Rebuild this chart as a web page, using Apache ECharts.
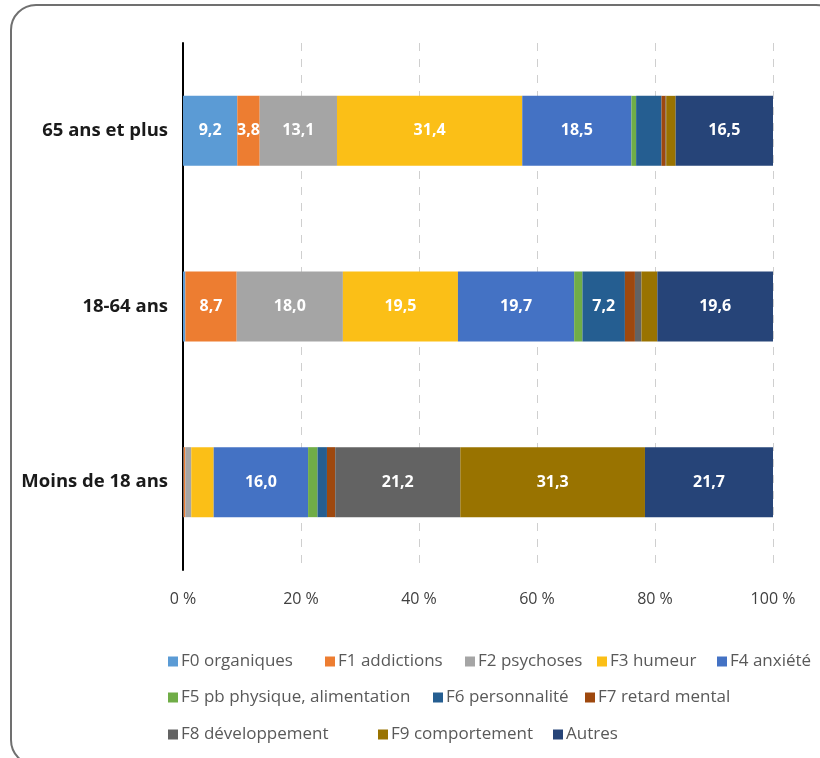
<!DOCTYPE html>
<html>
<head>
<meta charset="utf-8">
<script src="https://cdn.jsdelivr.net/npm/echarts@6/dist/echarts.min.js"></script>
<style>
body { margin: 0; background: #fff; }
.chart { width: 820px; height: 758px; }
</style>
</head>
<body>
<div class="chart" id="chart"></div>
<script>
// categories top -> bottom
const ages = ['65 ans et plus', '18-64 ans', 'Moins de 18 ans']
const groups = ['F0 organiques', 'F1 addictions', 'F2 psychoses', 'F3 humeur', 'F4 anxiété',
  'F5 pb physique, alimentation', 'F6 personnalité', 'F7 retard mental',
  'F8 développement', 'F9 comportement', 'Autres']
const colors = ['#5b9bd5', '#ed7d31', '#a5a5a5', '#fbbf17', '#4472c4',
  '#70ad47', '#255e91', '#9e480e', '#636363', '#997300', '#264478']
// shares in %, one array per age group, in the order of groups
const plus65 = [9.2, 3.8, 13.1, 31.4, 18.5, 0.8, 4.3, 0.7, 0.1, 1.6, 16.5]
const adults = [0.4, 8.7, 18.0, 19.5, 19.7, 1.4, 7.2, 1.7, 1.1, 2.7, 19.6]
const minors = [0.1, 0.3, 1.0, 3.8, 16.0, 1.6, 1.6, 1.4, 21.2, 31.3, 21.7]
// which groups carry a value label in each bar
const labelled = [[0, 1, 2, 3, 4, 10], [1, 2, 3, 4, 6, 10], [4, 8, 9, 10]]
const xTicks = [0, 20, 40, 60, 80, 100]

const rows = [plus65, adults, minors]
const font = '"Open Sans", sans-serif'
// legend entry positions (left, top), one per group
const legendPos = [[168, 653], [325, 653], [465, 653], [597, 653], [717, 653],
  [168, 689], [433, 689], [585, 689],
  [168, 726], [378, 726], [553, 726]]

const series = groups.map(function (name, i) {
  return {
    name: name,
    type: 'bar',
    stack: 'total',
    barWidth: 70,
    itemStyle: { color: colors[i] },
    label: {
      color: '#fff',
      fontFamily: font,
      fontSize: 16,
      fontWeight: 'bold',
      position: 'inside',
      formatter: function (p) { return p.value.toFixed(1).replace('.', ',') }
    },
    data: rows.map(function (r, k) {
      return { value: r[i], label: { show: labelled[k].indexOf(i) >= 0 } }
    })
  }
})

const legends = groups.map(function (name, i) {
  return {
    data: [name],
    left: legendPos[i][0],
    top: legendPos[i][1],
    padding: 0,
    itemWidth: 10,
    itemHeight: 10,
    icon: 'rect',
    textStyle: { color: '#595959', fontFamily: font, fontSize: 17, padding: [0, 0, 0, -2] }
  }
})

const myChart = echarts.init(document.getElementById('chart'))
const option = {
  animation: false,
  graphic: [{
    type: 'rect',
    z: -10,
    shape: { x: 11, y: 5, width: 830, height: 760, r: 25 },
    style: { fill: 'none', stroke: '#707070', lineWidth: 2 }
  }],
  grid: { left: 183, right: 47, top: 43, bottom: 188 },
  legend: legends,
  xAxis: {
    type: 'value',
    min: xTicks[0],
    max: xTicks[xTicks.length - 1],
    interval: xTicks[1] - xTicks[0],
    axisLine: { show: false },
    axisTick: { show: false },
    splitLine: { lineStyle: { color: '#cfcfcf', type: [8, 8], width: 1 } },
    axisLabel: {
      margin: 21,
      color: '#404040',
      fontFamily: font,
      fontSize: 16,
      formatter: '{value} %'
    }
  },
  yAxis: {
    type: 'category',
    inverse: true,
    data: ages,
    axisLine: { lineStyle: { color: '#000', width: 2 } },
    axisTick: { show: false },
    axisLabel: {
      margin: 15,
      color: '#1a1a1a',
      fontFamily: font,
      fontSize: 18.5,
      fontWeight: 'bold'
    }
  },
  series: series
}
myChart.setOption(option)
</script>
</body>
</html>
